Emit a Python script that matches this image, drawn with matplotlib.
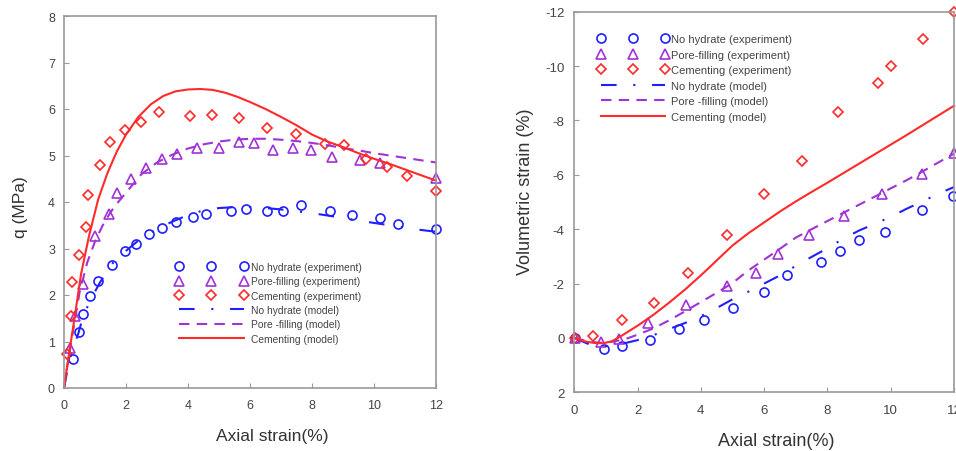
import matplotlib
matplotlib.use("Agg")
import matplotlib.pyplot as plt
import numpy as np

plt.rcParams['font.family'] = ['Liberation Sans', 'DejaVu Sans']
plt.rcParams['axes.unicode_minus'] = False

BLUE = '#1f1fff'
PURPLE = '#a033d6'
RED = '#ff2a2a'

# ---- stress-strain (left) ----
nh_exp_x = [0.28, 0.47, 0.62, 0.84, 1.09, 1.55, 1.97, 2.31, 2.75, 3.17, 3.62, 4.15, 4.59,
            5.38, 5.86, 6.56, 7.06, 7.66, 8.59, 9.29, 10.19, 10.78, 12.0]
nh_exp_q = [0.63, 1.21, 1.60, 1.98, 2.31, 2.65, 2.94, 3.10, 3.32, 3.45, 3.58, 3.68, 3.74,
            3.81, 3.86, 3.80, 3.81, 3.94, 3.80, 3.73, 3.66, 3.53, 3.43]
pf_exp_x = [0.19, 0.35, 0.62, 1.0, 1.46, 1.70, 2.15, 2.63, 3.17, 3.63, 4.28, 5.01, 5.66,
            6.13, 6.75, 7.38, 7.98, 8.66, 9.55, 10.19, 12.0]
pf_exp_q = [0.87, 1.55, 2.23, 3.26, 3.74, 4.19, 4.50, 4.73, 4.92, 5.03, 5.16, 5.17, 5.30,
            5.27, 5.12, 5.16, 5.11, 4.96, 4.91, 4.84, 4.52]
ce_exp_x = [0.11, 0.24, 0.26, 0.47, 0.71, 0.77, 1.16, 1.48, 1.97, 2.48, 3.08, 4.05, 4.78,
            5.65, 6.55, 7.49, 8.42, 9.04, 9.73, 10.41, 11.08, 12.0]
ce_exp_q = [0.74, 1.54, 2.28, 2.87, 3.47, 4.14, 4.80, 5.29, 5.55, 5.72, 5.93, 5.85, 5.88,
            5.80, 5.59, 5.47, 5.25, 5.23, 4.92, 4.75, 4.55, 4.24]

ce_mod_x = [0, 0.1, 0.2, 0.35, 0.55, 0.8, 1.1, 1.4, 1.7, 2.0, 2.4, 2.8, 3.2, 3.6, 4.0, 4.4,
            4.8, 5.2, 5.6, 6.0, 6.5, 7.0, 7.5, 8.0, 8.5, 9.0, 9.5, 10.0, 10.5, 11.0, 11.5, 12.0]
ce_mod_q = [0, 0.45, 0.9, 1.55, 2.45, 3.25, 4.05, 4.62, 5.08, 5.45, 5.83, 6.1, 6.28, 6.38,
            6.42, 6.43, 6.41, 6.35, 6.26, 6.15, 6.0, 5.83, 5.65, 5.45, 5.3, 5.18, 5.05, 4.93,
            4.82, 4.7, 4.58, 4.46]
pf_mod_x = [0, 0.1, 0.25, 0.5, 0.75, 1.0, 1.25, 1.5, 1.75, 2.0, 2.5, 3.0, 3.5, 4.0, 4.5, 5.0,
            5.5, 6.0, 6.5, 7.0, 7.5, 8.0, 8.5, 9.0, 9.5, 10.0, 10.5, 11.0, 11.5, 12.0]
pf_mod_q = [0, 0.45, 1.05, 2.05, 2.7, 3.15, 3.5, 3.78, 4.0, 4.2, 4.6, 4.85, 5.02, 5.15, 5.24,
            5.3, 5.34, 5.36, 5.36, 5.34, 5.31, 5.27, 5.22, 5.16, 5.11, 5.05, 5.0, 4.95, 4.9, 4.85]
nh_mod_x = [0, 0.1, 0.25, 0.47, 0.62, 0.9, 1.16, 1.59, 2.0, 2.45, 3.0, 3.5, 4.0, 4.5, 5.0,
            5.5, 6.0, 6.5, 7.0, 7.5, 8.0, 8.5, 9.0, 9.5, 10.0, 10.5, 11.0, 11.5, 12.0]
nh_mod_q = [0, 0.35, 0.75, 1.19, 1.55, 1.95, 2.27, 2.70, 2.95, 3.2, 3.42, 3.58, 3.72, 3.82,
            3.87, 3.89, 3.89, 3.87, 3.84, 3.8, 3.76, 3.71, 3.66, 3.6, 3.55, 3.5, 3.45, 3.4, 3.36]

# ---- volumetric strain (right) ----
nh_vexp_x = [0.02, 0.95, 1.52, 2.4, 3.32, 4.11, 5.02, 6.0, 6.73, 7.79, 8.41, 9.0, 9.81, 11.0, 11.97]
nh_vexp_v = [0.0, 0.41, 0.31, 0.08, -0.34, -0.66, -1.09, -1.69, -2.30, -2.79, -3.19, -3.59,
             -3.88, -4.69, -5.21]
pf_vexp_x = [0.02, 0.84, 1.42, 2.33, 3.53, 4.82, 5.73, 6.43, 7.42, 8.53, 9.74, 11.0, 12.0]
pf_vexp_v = [0.0, 0.16, 0.04, -0.55, -1.21, -1.90, -2.38, -3.10, -3.79, -4.50, -5.28, -6.02, -6.80]
ce_vexp_x = [0.02, 0.6, 1.51, 2.51, 3.6, 4.82, 6.0, 7.21, 8.32, 9.6, 10.02, 11.02, 12.0]
ce_vexp_v = [0.0, -0.08, -0.66, -1.30, -2.39, -3.80, -5.28, -6.50, -8.30, -9.39, -10.0, -11.01, -12.0]

ce_vmod_x = [0, 0.3, 0.6, 0.9, 1.2, 1.55, 2.0, 2.5, 3.0, 3.5, 4.0, 4.5, 5.0, 5.5, 6.0, 6.5,
             7.0, 7.5, 8.0, 8.5, 9.0, 9.5, 10.0, 10.5, 11.0, 11.5, 12.0]
ce_vmod_v = [0, 0.12, 0.18, 0.2, 0.12, -0.12, -0.45, -0.85, -1.3, -1.78, -2.3, -2.85, -3.4,
             -3.85, -4.25, -4.65, -5.02, -5.37, -5.71, -6.06, -6.41, -6.76, -7.11, -7.46,
             -7.82, -8.18, -8.54]
pf_vmod_x = [0, 0.4, 0.8, 1.2, 1.6, 2.0, 2.5, 3.0, 3.5, 4.0, 4.5, 5.0, 5.5, 6.0, 6.5, 7.0,
             7.5, 8.0, 8.5, 9.0, 9.5, 10.0, 10.5, 11.0, 11.5, 12.0]
pf_vmod_v = [0, 0.12, 0.18, 0.14, 0.05, -0.12, -0.35, -0.65, -0.98, -1.32, -1.66, -2.02,
             -2.48, -2.88, -3.28, -3.69, -4.0, -4.3, -4.6, -4.9, -5.2, -5.5, -5.8, -6.12,
             -6.45, -6.78]
nh_vmod_x = [0, 0.5, 1.0, 1.5, 2.0, 2.5, 3.0, 3.5, 4.0, 4.5, 5.0, 5.5, 6.0, 6.5, 7.0, 7.5,
             8.0, 8.5, 9.0, 9.5, 10.0, 10.5, 11.0, 11.5, 12.0]
nh_vmod_v = [0, 0.25, 0.3, 0.22, 0.08, -0.1, -0.33, -0.55, -0.8, -1.1, -1.42, -1.7, -2.0,
             -2.3, -2.65, -2.98, -3.3, -3.65, -3.95, -4.2, -4.45, -4.75, -5.02, -5.3, -5.55]

labels = ['No hydrate (experiment)', 'Pore-filling (experiment)', 'Cementing (experiment)',
          'No hydrate (model)', 'Pore -filling (model)', 'Cementing (model)']

dashdot = (0, (7.5, 8, 1, 8))
dashed = (0, (5, 3.5))

fig = plt.figure(figsize=(9.56, 4.52), dpi=100)
W, H = 956.0, 452.0
ax1 = fig.add_axes([64 / W, 1 - 389 / H, 372 / W, 372 / H])
ax2 = fig.add_axes([574.3 / W, 1 - 393.3 / H, 379.7 / W, 380.6 / H])

mk = dict(ls='none', mfc='none', ms=6.5, mew=1.2)


def draw(ax, data):
    (nx, ny, px, py, cx, cy, mnx, mny, mpx, mpy, mcx, mcy) = data
    h1, = ax.plot(nx, ny, 'o', color=BLUE, **mk)
    h2, = ax.plot(px, py, '^', color=PURPLE, **mk)
    h3, = ax.plot(cx, cy, 'D', color=RED, ms=5.2, mfc='none', mew=1.2, ls='none')
    h4, = ax.plot(mnx, mny, color=BLUE, lw=1.5, ls=dashdot)
    h5, = ax.plot(mpx, mpy, color=PURPLE, lw=1.5, ls=dashed)
    h6, = ax.plot(mcx, mcy, color=RED, lw=1.5)
    for h in (h1, h2, h3, h4, h5, h6):
        h.set_clip_on(False)
    ax.set_xlim(0, 12)
    ax.set_xticks(np.arange(0, 13, 2))
    for s in ax.spines.values():
        s.set_color('#999999')
        s.set_linewidth(1.2)
    ax.tick_params(direction='in', length=3.5, color='#999999', labelcolor='#444444')
    return [h1, h2, h3, h4, h5, h6]


hs = draw(ax1, (nh_exp_x, nh_exp_q, pf_exp_x, pf_exp_q, ce_exp_x, ce_exp_q,
                nh_mod_x, nh_mod_q, pf_mod_x, pf_mod_q, ce_mod_x, ce_mod_q))
ax1.set_ylim(0, 8)
ax1.tick_params(axis='both', labelsize=9)
ax1.tick_params(axis='x', pad=8)
ax1.tick_params(axis='y', pad=6.5)
ax1.set_ylabel('q (MPa)', fontsize=12.5, color='#333333')
ax1.set_xlabel('Axial strain(%)', fontsize=12.5, color='#333333')
ax1.xaxis.label.set_va('center')
ax1.xaxis.set_label_coords(0.559, -0.129)
ax1.yaxis.label.set_va('center')
ax1.yaxis.set_label_coords(-0.118, 0.49)
ax1.legend(hs, labels, loc='upper left', bbox_to_anchor=(176 / W, 1 - 263 / H),
           bbox_transform=fig.transFigure, frameon=False, fontsize=7.4, numpoints=3,
           handlelength=6.9, handletextpad=0.35, labelspacing=0.42, borderpad=0,
           borderaxespad=0, labelcolor='#444444')

hs2 = draw(ax2, (nh_vexp_x, nh_vexp_v, pf_vexp_x, pf_vexp_v, ce_vexp_x, ce_vexp_v,
                 nh_vmod_x, nh_vmod_v, pf_vmod_x, pf_vmod_v, ce_vmod_x, ce_vmod_v))
ax2.set_ylim(2, -12)
ax2.set_yticks(np.arange(-12, 3, 2))
ax2.tick_params(axis='both', labelsize=9.5)
ax2.tick_params(axis='x', pad=8.5)
ax2.tick_params(axis='y', pad=7)
ax2.set_ylabel('Volumetric strain (%)', fontsize=13, color='#333333')
ax2.set_xlabel('Axial strain(%)', fontsize=13, color='#333333')
ax2.xaxis.label.set_va('center')
ax2.xaxis.set_label_coords((776 - 574.3) / 379.7, -(441.7 - 393.3) / 380.6)
ax2.yaxis.label.set_va('center')
ax2.yaxis.set_label_coords(-(574.3 - 525) / 379.7, (393.3 - 192) / 380.6)
ax2.legend(hs2, labels, loc='upper left', bbox_to_anchor=(598 / W, 1 - 35 / H),
           bbox_transform=fig.transFigure, frameon=False, fontsize=8, numpoints=3,
           handlelength=6.3, handletextpad=0.25, labelspacing=0.5, borderpad=0,
           borderaxespad=0, labelcolor='#444444')

fig.savefig('out.png', dpi=100)
